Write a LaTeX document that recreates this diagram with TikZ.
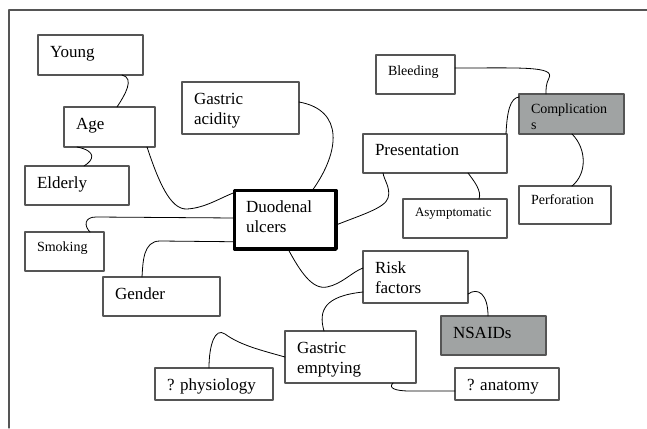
\documentclass[tikz,border=0pt]{standalone}
\usepackage{fontspec}
\setmainfont{Liberation Serif}[Ligatures=TeX]
\newfontfamily\mapfont{Liberation Serif}
\definecolor{boxline}{RGB}{85,85,85}
\definecolor{boxgray}{RGB}{160,163,163}
\begin{document}
\begin{tikzpicture}[line cap=round, line join=round, x=1pt, y=-1pt,
  box/.style={draw=boxline, line width=1.1pt, anchor=north west, outer sep=0pt,
    inner xsep=12pt, inner ysep=0pt, align=left,
    font=\mapfont\fontsize{17}{20}\selectfont, text height=22.5pt},
  smalltext/.style={font=\mapfont\fontsize{14}{16.5}\selectfont, text height=19.5pt},
  greybox/.style={fill=boxgray},
  link/.style={line width=0.8pt}]
  \useasboundingbox (0,0) rectangle (647,428);
  % Page frame.
  \draw[draw=boxline, line width=1.2pt] (9,428) -- (9,10) -- (647,10);
  % Left side of the map.
  \node[box, text width=81pt, text depth=17.5pt] (young) at (38,35) {Young};
  \node[box, text width=67pt, text depth=17.5pt] (age) at (64,107) {Age};
  \node[box, text width=80pt, text depth=16.5pt] (elderly) at (25,166) {Elderly};
  \node[box, text width=93pt, text depth=29.5pt] (acidity) at (182,82) {Gastric\\acidity};
  \node[box, smalltext, text width=55pt, text depth=19.5pt] (smoking) at (25,232) {Smoking};
  \node[box, text width=93pt, text depth=16.5pt] (gender) at (103,277) {Gender};
  % Centre.
  \node[box, draw=black, line width=3.5pt, inner xsep=11.5pt, text width=78.5pt,
    text height=21.5pt, text depth=37pt] (ulcers) at (234.5,190.5) {Duodenal\\ulcers};
  % Lower part.
  \node[box, text width=81pt, text depth=29.5pt] (risk) at (363,251) {Risk\\factors};
  \node[box, greybox, text width=81pt, text depth=16.5pt] (nsaids) at (441,316) {NSAIDs};
  \node[box, text width=107pt, text depth=29.5pt] (emptying) at (285,331) {Gastric\\emptying};
  \node[box, text width=94pt, text depth=9.5pt] (physio) at (155,368) {?~physiology};
  \node[box, text width=80pt, text depth=9.5pt] (anatomy) at (455,368) {?~anatomy};
  % Upper right part.
  \node[box, text width=120pt, text height=21pt, text depth=18pt] (present) at (363,134) {Presentation};
  \node[box, font=\mapfont\fontsize{13}{15.5}\selectfont, text width=80pt, text height=17.5pt,
    text depth=21.5pt] (asympt) at (403,199) {Asymptomatic};
  \node[box, greybox, smalltext, text width=81pt, text height=19pt, text depth=21pt] (compl) at (519,94) {Complication\\s};
  \node[box, smalltext, text width=68pt, text height=18.5pt, text depth=19.5pt] (perf) at (519,186) {Perforation};
  \node[box, smalltext, text width=55pt, text height=20.5pt, text depth=18.5pt] (bleed) at (376,55) {Bleeding};
  % Connectors.
  \draw[link] ([xshift=31.5pt]young.south) .. controls +(13,3) and +(8,-12) .. ([xshift=7.5pt]age.north);
  \draw[link] ([xshift=-32.5pt]age.south) .. controls +(20,4) and +(10,-6) .. ([xshift=7pt]elderly.north);
  \draw[link] ([xshift=37.5pt]age.south) .. controls +(11,33) and (170,210) .. (187,209)
    .. controls (205,208) and (220,198) .. ([yshift=-2pt]ulcers.north west);
  \draw[link] ([yshift=6pt]acidity.east) .. controls +(45,8) and +(28,-39) .. ([xshift=27pt]ulcers.north);
  \draw[link] ([yshift=1.75pt]ulcers.west) -- (96,217) .. controls (84,217) and (84,226) .. ([xshift=25.5pt]smoking.north);
  \draw[link] ([yshift=-22pt]ulcers.west) -- (160,241) .. controls (143,241) and (143,262) .. ([xshift=-19.5pt]gender.north);
  \draw[link] ([xshift=2.75pt]ulcers.south) .. controls +(12,22) and (312,290) .. (327,287)
    .. controls (342,284) and (352,272) .. ([yshift=9pt]risk.west);
  \draw[link] ([yshift=-15pt]risk.west) .. controls +(-38,4) and +(-6,-21) .. ([xshift=-26.5pt]emptying.north);
  \draw[link] ([yshift=-17pt]risk.east) .. controls +(10,-7) and +(0,-22) .. ([xshift=-5.5pt]nsaids.north);
  \draw[link] (emptying.west) .. controls +(-25,-7) and (240,345) .. (225,334)
    .. controls (215,327) and (209,345) .. ([xshift=-5pt]physio.north);
  \draw[link] ([xshift=42.5pt]emptying.south) .. controls +(-5,5) and (395,391) .. (410,391) -- ([yshift=-7pt]anatomy.west);
  \draw[link] ([yshift=-5.25pt]ulcers.east) .. controls +(25,-10) and (385,208) .. (388,198)
    .. controls (391,188) and +(1,7) .. ([xshift=-52pt]present.south);
  \draw[link] ([xshift=33pt]present.south) .. controls +(6,8) and +(3,-8) .. ([xshift=24pt]asympt.north);
  \draw[link] ([xshift=-1pt]present.north east) .. controls +(1,-22) and +(-9,1) .. ([yshift=-3pt]compl.north west);
  \draw[link] ([xshift=0.5pt]compl.south) .. controls +(15,15) and +(15,-12) .. ([xshift=7pt]perf.north);
  \draw[link] ([yshift=6.5pt]bleed.east) .. controls +(65,0) and (555,66) .. (549,78)
    .. controls (546,84) and +(0,-6) .. ([xshift=-25.5pt]compl.north);
\end{tikzpicture}
\end{document}
